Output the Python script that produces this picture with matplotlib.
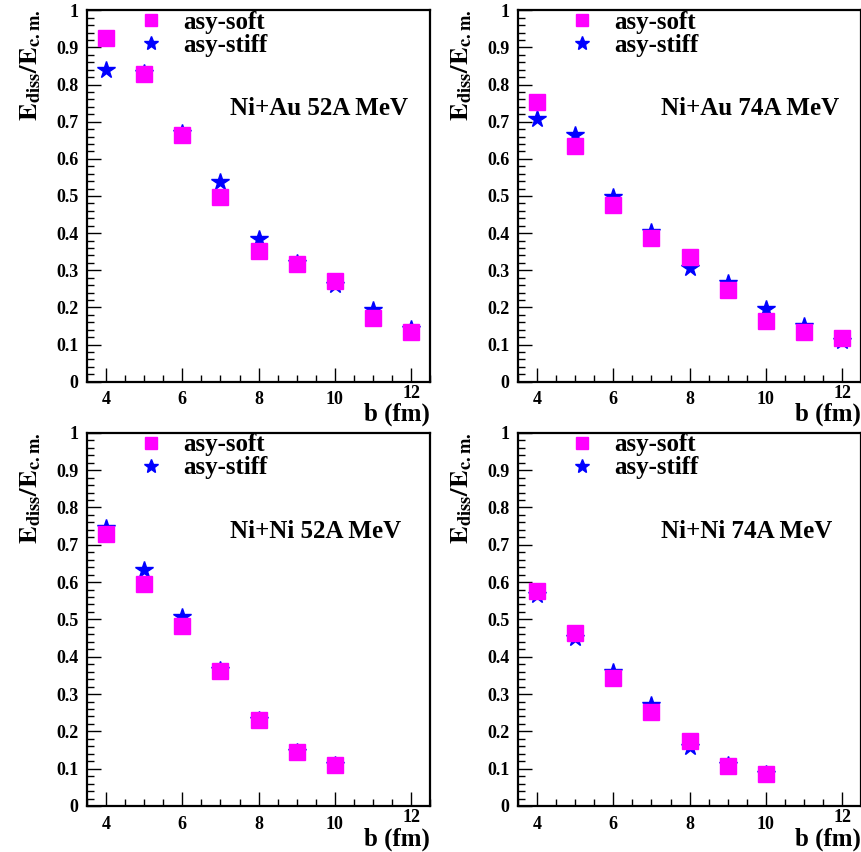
import matplotlib
matplotlib.use("Agg")
import matplotlib.pyplot as plt
from matplotlib.ticker import MultipleLocator

plt.rcParams['font.family'] = ['Liberation Serif', 'DejaVu Serif']
plt.rcParams['font.weight'] = 'bold'
plt.rcParams['axes.labelweight'] = 'bold'
plt.rcParams['mathtext.fontset'] = 'stix'
plt.rcParams['mathtext.default'] = 'bf'

# impact parameter b (fm)
b_au = [4, 5, 6, 7, 8, 9, 10, 11, 12]
b_ni = [4, 5, 6, 7, 8, 9, 10]

# Ni+Au 52A MeV
au52_soft = [0.924, 0.828, 0.664, 0.498, 0.352, 0.318, 0.271, 0.172, 0.133]
au52_stiff = [0.839, 0.83, 0.67, 0.538, 0.383, 0.32, 0.26, 0.193, 0.143]
# Ni+Au 74A MeV
au74_soft = [0.753, 0.634, 0.475, 0.386, 0.336, 0.247, 0.164, 0.135, 0.117]
au74_stiff = [0.706, 0.664, 0.498, 0.404, 0.305, 0.265, 0.195, 0.15, 0.11]
# Ni+Ni 52A MeV
ni52_soft = [0.728, 0.596, 0.482, 0.363, 0.231, 0.145, 0.110]
ni52_stiff = [0.745, 0.632, 0.507, 0.365, 0.23, 0.145, 0.11]
# Ni+Ni 74A MeV
ni74_soft = [0.576, 0.464, 0.343, 0.253, 0.175, 0.106, 0.085]
ni74_stiff = [0.565, 0.449, 0.36, 0.27, 0.157, 0.11, 0.085]

x_ticks = [4, 6, 8, 10, 12]
y_ticks = [0, 0.1, 0.2, 0.3, 0.4, 0.5, 0.6, 0.7, 0.8, 0.9, 1.0]
y_ticklabels = ['0', '0.1', '0.2', '0.3', '0.4', '0.5', '0.6', '0.7', '0.8', '0.9', '1']

panels = [
    ("Ni+Au 52A MeV", b_au, au52_soft, au52_stiff),
    ("Ni+Au 74A MeV", b_au, au74_soft, au74_stiff),
    ("Ni+Ni 52A MeV", b_ni, ni52_soft, ni52_stiff),
    ("Ni+Ni 74A MeV", b_ni, ni74_soft, ni74_stiff),
]

# axes boxes [left, bottom, width, height]
boxes = [
    [0.101, 0.552, 0.398, 0.436],
    [0.601, 0.552, 0.398, 0.436],
    [0.101, 0.054, 0.398, 0.438],
    [0.601, 0.054, 0.398, 0.438],
]

fig = plt.figure(figsize=(8.62, 8.52), dpi=100)

for (title, b, soft, stiff), box in zip(panels, boxes):
    ax = fig.add_axes(box)
    ax.plot(b, stiff, linestyle='none', marker='*', markersize=13,
            color='#0000ff', label='asy-stiff', zorder=2)
    ax.plot(b, soft, linestyle='none', marker='s', markersize=11,
            color='#ff00ff', label='asy-soft', zorder=3)
    ax.set_xlim(3.5, 12.5)
    ax.set_ylim(0, 1)
    # the last x label is drawn a bit higher (as in the original), so leave it blank here
    ax.set_xticks(x_ticks, [str(t) for t in x_ticks[:-1]] + [''])
    ax.xaxis.set_minor_locator(MultipleLocator(0.5))
    ax.set_yticks(y_ticks, y_ticklabels)
    ax.yaxis.set_minor_locator(MultipleLocator(0.02))
    ax.tick_params(which='both', direction='in', top=False, right=False,
                   labelsize=13)
    ax.tick_params(which='major', length=10, width=1)
    ax.tick_params(which='minor', length=5, width=1)
    ax.tick_params(axis='x', pad=7)
    ax.tick_params(axis='y', pad=6)
    ax.annotate(str(x_ticks[-1]), xy=(x_ticks[-1], 0),
                xycoords=('data', 'axes fraction'), xytext=(0, -2.5),
                textcoords='offset points', ha='center', va='top', fontsize=13)
    for sp in ax.spines.values():
        sp.set_linewidth(1.6)

    ax.set_xlabel('b (fm)', fontsize=18, fontweight='bold', loc='right',
                  labelpad=-4)
    ax.set_ylabel(r'$E_{diss}/E_{c.m.}$', fontsize=19, loc='top', labelpad=10)

    ax.text(7.26, 0.735, title, fontsize=18, ha='left', va='center')

    h, l = ax.get_legend_handles_labels()
    ax.legend(h[::-1], l[::-1], loc='upper left', bbox_to_anchor=(0.12, 1.025),
              frameon=False, fontsize=18, markerscale=0.8, handlelength=1.0,
              handletextpad=0.8, labelspacing=0.0, borderaxespad=0)

fig.savefig('out.png', dpi=100)
